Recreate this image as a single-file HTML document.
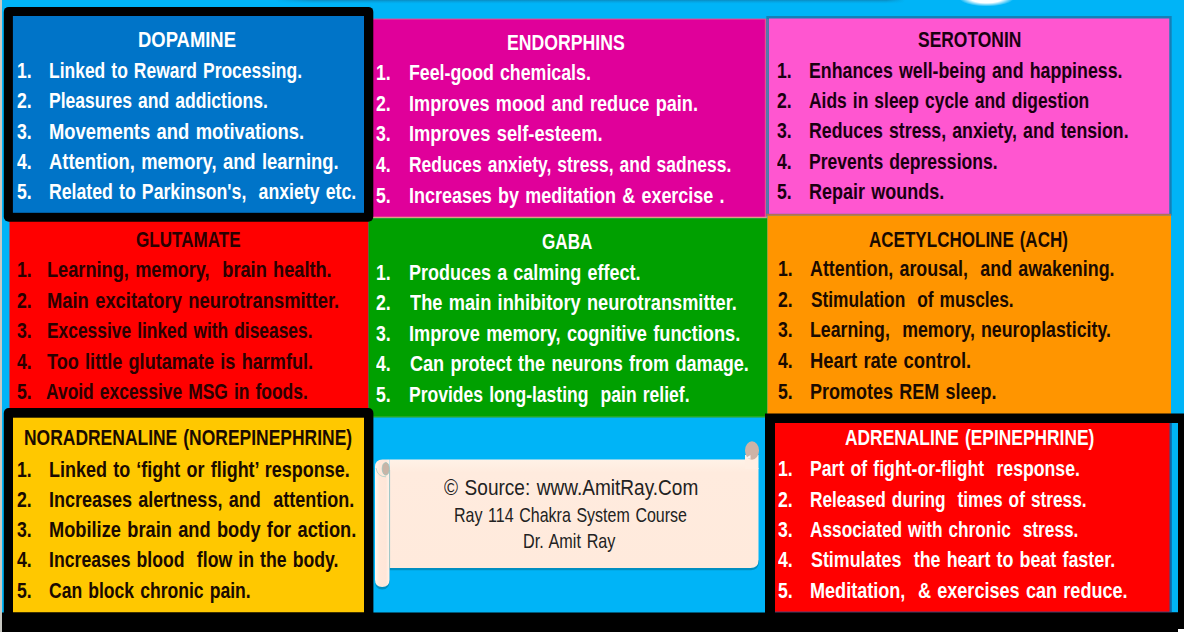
<!DOCTYPE html>
<html lang="en">
<head>
<meta charset="utf-8">
<title>Neurotransmitters and their functions</title>
<style>
html,body{margin:0;padding:0;background:#00B4F7;}
body{width:1184px;height:632px;overflow:hidden;}
#chart{position:relative;width:1184px;height:632px;overflow:hidden;background:#00B4F7;font-family:"Liberation Sans",Arial,sans-serif;}
.shape{position:absolute;box-sizing:border-box;}
.card,.credit,ol,li{margin:0;padding:0;list-style:none;display:block;}
.t{position:absolute;margin:0;padding:0;white-space:pre;font-weight:bold;line-height:1.117;transform-origin:0 0;display:block;word-spacing:1.5px;}
.reg{font-weight:normal;color:#222;}

</style>
</head>
<body>
<main id="chart">
<svg class="shape" id="bg" style="left:0;top:0" width="1184" height="632" viewBox="0 0 1184 632" aria-hidden="true">
  <defs>
    <linearGradient id="topg" gradientUnits="userSpaceOnUse" x1="275" y1="0" x2="905" y2="0"><stop offset="0" stop-color="#0a8fc6" stop-opacity="0"/><stop offset=".06" stop-color="#0a8fc6"/><stop offset=".97" stop-color="#0a8fc6"/><stop offset="1" stop-color="#0a8fc6" stop-opacity="0"/></linearGradient>
    <radialGradient id="glow" cx=".5" cy=".5" r=".5"><stop offset="0" stop-color="#fff"/><stop offset=".6" stop-color="#fff"/><stop offset="1" stop-color="#fff" stop-opacity="0"/></radialGradient>
    <linearGradient id="pg" x1="0" y1="0" x2="0" y2="1"><stop offset="0" stop-color="#fff2e7"/><stop offset=".12" stop-color="#ffebde"/><stop offset="1" stop-color="#ffeadc"/></linearGradient>
    <linearGradient id="rg" x1="0" y1="0" x2="1" y2="0"><stop offset="0" stop-color="#fff7f0"/><stop offset=".3" stop-color="#ffe8da"/><stop offset=".75" stop-color="#ffe6d8"/><stop offset="1" stop-color="#fff4ec"/></linearGradient>
  </defs>
  <rect x="0" y="0" width="1184" height="632" fill="#00B4F7"/>
  <rect x="275" y="0" width="630" height="1.2" fill="url(#topg)" opacity=".9"/>
  <rect x="275" y="1.2" width="630" height="1" fill="url(#topg)" opacity=".5"/>
  <rect x="275" y="2.2" width="630" height="1" fill="url(#topg)" opacity=".2"/>
  <ellipse cx="986.5" cy="-2.5" rx="28" ry="9" fill="url(#glow)"/>
  <!-- endorphins -->
  <rect x="373" y="18.6" width="393.5" height="199.6" fill="#e8508f"/>
  <rect x="373" y="19.6" width="391.8" height="197.2" fill="#E0009A"/>
  <rect x="373" y="216.8" width="393.5" height="1.6" fill="#e39a86"/>
  <!-- serotonin -->
  <rect x="766.3" y="16" width="405.4" height="199.5" fill="#1480b8"/>
  <rect x="766.3" y="19" width="2.5" height="196.5" fill="#5a78a8"/>
  <rect x="766.3" y="213.8" width="404.8" height="1.8" fill="#b8704f"/>
  <rect x="769" y="18.5" width="400.3" height="195.3" fill="#FF56D0"/>
  <!-- glutamate / gaba / acetylcholine -->
  <rect x="9.5" y="215" width="359.1" height="200" fill="#FF0000"/>
  <rect x="368.6" y="218.3" width="398.8" height="199" fill="#00A000"/>
  <rect x="368.6" y="416.4" width="398.8" height="0.9" fill="#3fae3a"/>
  <rect x="767.4" y="215.6" width="403.6" height="202" fill="#FF9500"/>
  <!-- dopamine -->
  <rect x="3.8" y="6.9" width="369.5" height="214.8" rx="5" ry="5" fill="#000"/>
  <rect x="12.9" y="16" width="351.1" height="196.8" fill="#0074C8"/>
  <!-- noradrenaline -->
  <rect x="3.8" y="408" width="369.6" height="214" rx="5" ry="5" fill="#000"/>
  <rect x="13" y="417.7" width="351" height="194.8" fill="#FFC800"/>
  <!-- adrenaline -->
  <rect x="765" y="413.5" width="425" height="210" fill="#000"/>
  <rect x="775" y="423" width="403" height="189.5" fill="#00B4F7"/>
  <rect x="775" y="423" width="396.8" height="189.5" fill="#1466a6"/>
  <rect x="775" y="423" width="394.4" height="189.5" fill="#8a2a50"/>
  <rect x="775" y="423" width="394.4" height="188.3" fill="#FF0000"/>
  <!-- bottom bar -->
  <rect x="2" y="612.5" width="1182" height="19.5" fill="#000"/>
  <rect x="1178" y="629" width="6" height="3" fill="#fff"/>
  <rect x="0" y="0" width="2" height="632" fill="#c9c9c3"/>
  <!-- scroll banner -->
  <path d="M389.5 560 H759 V561 Q759 570.2 751 570.2 H389.5 V581 Q389.5 589.5 382.2 589.5 Q375 589.5 375 581 V560 Z" fill="#0086b3" opacity=".8"/>
  <path d="M389.5 459.5 H745.5 V468 H758.5 V560 Q758.5 568 750.5 568 H389.5 Z" fill="url(#pg)"/>
  <rect x="745" y="455" width="13.5" height="14" fill="#ffefe3"/>
  <ellipse cx="752" cy="450.5" rx="7" ry="9.3" fill="#ceb3a6"/>
  <path d="M746.5 457.5 l4 -2.5 v4 z" fill="#f4f4f4"/>
  <path d="M375 467 Q375 459.5 382.5 459.5 H389.5 V579.5 Q389.5 587 382.2 587 Q375 587 375 579.5 Z" fill="url(#rg)"/>
  <path d="M389.6 470 V568" stroke="#9fc4c4" stroke-width="1" fill="none"/>
  <ellipse cx="385.8" cy="468.8" rx="3.6" ry="6.3" fill="#c9b4a6" stroke="#9cc3bd" stroke-width=".8"/>
  <path d="M376 468 Q377.5 477 386 476.8" stroke="#a9cfc6" stroke-width=".8" fill="none"/>
</svg>

<section class="card" id="dopamine" style="color:#fff">
  <h2 class="t ttl" id="dopamine-t" style="left:137.66px;top:28px;font-size:21.8px;transform:scaleX(0.8455);">DOPAMINE</h2>
  <ol>
    <li><span class="t num" id="dopamine-n1" style="left:17.20px;top:59px;font-size:21.8px;transform:scaleX(0.8100);">1.</span><span class="t" id="dopamine-l1" style="left:48.73px;top:59px;font-size:21.8px;transform:scaleX(0.8011);">Linked to Reward Processing.</span></li>
    <li><span class="t num" id="dopamine-n2" style="left:17.20px;top:89px;font-size:21.8px;transform:scaleX(0.8100);">2.</span><span class="t" id="dopamine-l2" style="left:48.95px;top:89px;font-size:21.8px;transform:scaleX(0.8048);">Pleasures and addictions.</span></li>
    <li><span class="t num" id="dopamine-n3" style="left:17.20px;top:120px;font-size:21.8px;transform:scaleX(0.8100);">3.</span><span class="t" id="dopamine-l3" style="left:48.81px;top:120px;font-size:21.8px;transform:scaleX(0.8442);">Movements and motivations.</span></li>
    <li><span class="t num" id="dopamine-n4" style="left:17.20px;top:150px;font-size:21.8px;transform:scaleX(0.8100);">4.</span><span class="t" id="dopamine-l4" style="left:48.97px;top:150px;font-size:21.8px;transform:scaleX(0.8440);">Attention, memory, and learning.</span></li>
    <li><span class="t num" id="dopamine-n5" style="left:17.20px;top:180px;font-size:21.8px;transform:scaleX(0.8100);">5.</span><span class="t" id="dopamine-l5" style="left:48.92px;top:180px;font-size:21.8px;transform:scaleX(0.8115);">Related to Parkinson's,  anxiety etc.</span></li>
  </ol>
</section>
<section class="card" id="endorphins" style="color:#fff">
  <h2 class="t ttl" id="endorphins-t" style="left:506.90px;top:31px;font-size:21.8px;transform:scaleX(0.8108);">ENDORPHINS</h2>
  <ol>
    <li><span class="t num" id="endorphins-n1" style="left:375.60px;top:61px;font-size:21.8px;transform:scaleX(0.8100);">1.</span><span class="t" id="endorphins-l1" style="left:409.07px;top:61px;font-size:21.8px;transform:scaleX(0.8147);">Feel-good chemicals.</span></li>
    <li><span class="t num" id="endorphins-n2" style="left:375.60px;top:92px;font-size:21.8px;transform:scaleX(0.8100);">2.</span><span class="t" id="endorphins-l2" style="left:408.92px;top:92px;font-size:21.8px;transform:scaleX(0.8314);">Improves mood and reduce pain.</span></li>
    <li><span class="t num" id="endorphins-n3" style="left:375.60px;top:122px;font-size:21.8px;transform:scaleX(0.8100);">3.</span><span class="t" id="endorphins-l3" style="left:408.91px;top:122px;font-size:21.8px;transform:scaleX(0.8400);">Improves self-esteem.</span></li>
    <li><span class="t num" id="endorphins-n4" style="left:375.60px;top:153px;font-size:21.8px;transform:scaleX(0.8100);">4.</span><span class="t" id="endorphins-l4" style="left:408.97px;top:153px;font-size:21.8px;transform:scaleX(0.7996);">Reduces anxiety, stress, and sadness.</span></li>
    <li><span class="t num" id="endorphins-n5" style="left:375.60px;top:184px;font-size:21.8px;transform:scaleX(0.8100);">5.</span><span class="t" id="endorphins-l5" style="left:408.92px;top:184px;font-size:21.8px;transform:scaleX(0.8236);">Increases by meditation &amp; exercise .</span></li>
  </ol>
</section>
<section class="card" id="serotonin" style="color:#1a0010">
  <h2 class="t ttl" id="serotonin-t" style="left:918.30px;top:28px;font-size:21.8px;transform:scaleX(0.8000);">SEROTONIN</h2>
  <ol>
    <li><span class="t num" id="serotonin-n1" style="left:776.80px;top:59px;font-size:21.8px;transform:scaleX(0.8100);">1.</span><span class="t" id="serotonin-l1" style="left:809.40px;top:59px;font-size:21.8px;transform:scaleX(0.8145);">Enhances well-being and happiness.</span></li>
    <li><span class="t num" id="serotonin-n2" style="left:776.80px;top:89px;font-size:21.8px;transform:scaleX(0.8100);">2.</span><span class="t" id="serotonin-l2" style="left:809.10px;top:89px;font-size:21.8px;transform:scaleX(0.8000);">Aids in sleep cycle and digestion</span></li>
    <li><span class="t num" id="serotonin-n3" style="left:776.80px;top:119px;font-size:21.8px;transform:scaleX(0.8100);">3.</span><span class="t" id="serotonin-l3" style="left:809.34px;top:119px;font-size:21.8px;transform:scaleX(0.8127);">Reduces stress, anxiety, and tension.</span></li>
    <li><span class="t num" id="serotonin-n4" style="left:776.80px;top:150px;font-size:21.8px;transform:scaleX(0.8100);">4.</span><span class="t" id="serotonin-l4" style="left:809.41px;top:150px;font-size:21.8px;transform:scaleX(0.8057);">Prevents depressions.</span></li>
    <li><span class="t num" id="serotonin-n5" style="left:776.80px;top:180px;font-size:21.8px;transform:scaleX(0.8100);">5.</span><span class="t" id="serotonin-l5" style="left:809.33px;top:180px;font-size:21.8px;transform:scaleX(0.8256);">Repair wounds.</span></li>
  </ol>
</section>
<section class="card" id="glutamate" style="color:#2a0000">
  <h2 class="t ttl" id="glutamate-t" style="left:135.54px;top:228px;font-size:21.8px;transform:scaleX(0.7825);">GLUTAMATE</h2>
  <ol>
    <li><span class="t num" id="glutamate-n1" style="left:17.20px;top:258px;font-size:21.8px;transform:scaleX(0.8100);">1.</span><span class="t" id="glutamate-l1" style="left:46.65px;top:258px;font-size:21.8px;transform:scaleX(0.8346);">Learning, memory,  brain health.</span></li>
    <li><span class="t num" id="glutamate-n2" style="left:17.20px;top:289px;font-size:21.8px;transform:scaleX(0.8100);">2.</span><span class="t" id="glutamate-l2" style="left:46.90px;top:289px;font-size:21.8px;transform:scaleX(0.8421);">Main excitatory neurotransmitter.</span></li>
    <li><span class="t num" id="glutamate-n3" style="left:17.20px;top:319px;font-size:21.8px;transform:scaleX(0.8100);">3.</span><span class="t" id="glutamate-l3" style="left:46.97px;top:319px;font-size:21.8px;transform:scaleX(0.7976);">Excessive linked with diseases.</span></li>
    <li><span class="t num" id="glutamate-n4" style="left:17.20px;top:350px;font-size:21.8px;transform:scaleX(0.8100);">4.</span><span class="t" id="glutamate-l4" style="left:47.08px;top:350px;font-size:21.8px;transform:scaleX(0.8301);">Too little glutamate is harmful.</span></li>
    <li><span class="t num" id="glutamate-n5" style="left:17.20px;top:380px;font-size:21.8px;transform:scaleX(0.8100);">5.</span><span class="t" id="glutamate-l5" style="left:45.94px;top:380px;font-size:21.8px;transform:scaleX(0.7995);">Avoid excessive MSG in foods.</span></li>
  </ol>
</section>
<section class="card" id="gaba" style="color:#fff">
  <h2 class="t ttl" id="gaba-t" style="left:541.71px;top:230px;font-size:21.8px;transform:scaleX(0.7842);">GABA</h2>
  <ol>
    <li><span class="t num" id="gaba-n1" style="left:375.60px;top:261px;font-size:21.8px;transform:scaleX(0.8100);">1.</span><span class="t" id="gaba-l1" style="left:409.08px;top:261px;font-size:21.8px;transform:scaleX(0.8245);">Produces a calming effect.</span></li>
    <li><span class="t num" id="gaba-n2" style="left:375.60px;top:291px;font-size:21.8px;transform:scaleX(0.8100);">2.</span><span class="t" id="gaba-l2" style="left:409.58px;top:291px;font-size:21.8px;transform:scaleX(0.8363);">The main inhibitory neurotransmitter.</span></li>
    <li><span class="t num" id="gaba-n3" style="left:375.60px;top:322px;font-size:21.8px;transform:scaleX(0.8100);">3.</span><span class="t" id="gaba-l3" style="left:409.06px;top:322px;font-size:21.8px;transform:scaleX(0.8353);">Improve memory, cognitive functions.</span></li>
    <li><span class="t num" id="gaba-n4" style="left:375.60px;top:352px;font-size:21.8px;transform:scaleX(0.8100);">4.</span><span class="t" id="gaba-l4" style="left:409.75px;top:352px;font-size:21.8px;transform:scaleX(0.8297);">Can protect the neurons from damage.</span></li>
    <li><span class="t num" id="gaba-n5" style="left:375.60px;top:383px;font-size:21.8px;transform:scaleX(0.8100);">5.</span><span class="t" id="gaba-l5" style="left:409.02px;top:383px;font-size:21.8px;transform:scaleX(0.8043);">Provides long-lasting  pain relief.</span></li>
  </ol>
</section>
<section class="card" id="ach" style="color:#1a0a00">
  <h2 class="t ttl" id="ach-t" style="left:869.48px;top:228px;font-size:21.8px;transform:scaleX(0.7814);">ACETYLCHOLINE (ACH)</h2>
  <ol>
    <li><span class="t num" id="ach-n1" style="left:777.80px;top:257px;font-size:21.8px;transform:scaleX(0.8100);">1.</span><span class="t" id="ach-l1" style="left:809.85px;top:257px;font-size:21.8px;transform:scaleX(0.8191);">Attention, arousal,  and awakening.</span></li>
    <li><span class="t num" id="ach-n2" style="left:777.80px;top:288px;font-size:21.8px;transform:scaleX(0.8100);">2.</span><span class="t" id="ach-l2" style="left:810.61px;top:288px;font-size:21.8px;transform:scaleX(0.7940);">Stimulation  of muscles.</span></li>
    <li><span class="t num" id="ach-n3" style="left:777.80px;top:318px;font-size:21.8px;transform:scaleX(0.8100);">3.</span><span class="t" id="ach-l3" style="left:809.61px;top:318px;font-size:21.8px;transform:scaleX(0.8143);">Learning,  memory, neuroplasticity.</span></li>
    <li><span class="t num" id="ach-n4" style="left:777.80px;top:349px;font-size:21.8px;transform:scaleX(0.8100);">4.</span><span class="t" id="ach-l4" style="left:809.61px;top:349px;font-size:21.8px;transform:scaleX(0.8447);">Heart rate control.</span></li>
    <li><span class="t num" id="ach-n5" style="left:777.80px;top:380px;font-size:21.8px;transform:scaleX(0.8100);">5.</span><span class="t" id="ach-l5" style="left:809.58px;top:380px;font-size:21.8px;transform:scaleX(0.8253);">Promotes REM sleep.</span></li>
  </ol>
</section>
<section class="card" id="noradrenaline" style="color:#1a0a00">
  <h2 class="t ttl" id="noradrenaline-t" style="left:24.08px;top:426px;font-size:21.8px;transform:scaleX(0.8010);">NORADRENALINE (NOREPINEPHRINE)</h2>
  <ol>
    <li><span class="t num" id="noradrenaline-n1" style="left:17.20px;top:458px;font-size:21.8px;transform:scaleX(0.8100);">1.</span><span class="t" id="noradrenaline-l1" style="left:48.72px;top:458px;font-size:21.8px;transform:scaleX(0.8245);">Linked to ‘fight or flight’ response.</span></li>
    <li><span class="t num" id="noradrenaline-n2" style="left:17.20px;top:488px;font-size:21.8px;transform:scaleX(0.8100);">2.</span><span class="t" id="noradrenaline-l2" style="left:48.60px;top:488px;font-size:21.8px;transform:scaleX(0.8260);">Increases alertness, and  attention.</span></li>
    <li><span class="t num" id="noradrenaline-n3" style="left:17.20px;top:518px;font-size:21.8px;transform:scaleX(0.8100);">3.</span><span class="t" id="noradrenaline-l3" style="left:48.69px;top:518px;font-size:21.8px;transform:scaleX(0.8369);">Mobilize brain and body for action.</span></li>
    <li><span class="t num" id="noradrenaline-n4" style="left:17.20px;top:548px;font-size:21.8px;transform:scaleX(0.8100);">4.</span><span class="t" id="noradrenaline-l4" style="left:48.80px;top:548px;font-size:21.8px;transform:scaleX(0.8099);">Increases blood  flow in the body.</span></li>
    <li><span class="t num" id="noradrenaline-n5" style="left:17.20px;top:579px;font-size:21.8px;transform:scaleX(0.8100);">5.</span><span class="t" id="noradrenaline-l5" style="left:49.39px;top:579px;font-size:21.8px;transform:scaleX(0.8054);">Can block chronic pain.</span></li>
  </ol>
</section>
<section class="card" id="adrenaline" style="color:#fff">
  <h2 class="t ttl" id="adrenaline-t" style="left:844.96px;top:426px;font-size:21.8px;transform:scaleX(0.7973);">ADRENALINE (EPINEPHRINE)</h2>
  <ol>
    <li><span class="t num" id="adrenaline-n1" style="left:778.10px;top:457px;font-size:21.8px;transform:scaleX(0.8100);">1.</span><span class="t" id="adrenaline-l1" style="left:809.92px;top:457px;font-size:21.8px;transform:scaleX(0.8107);">Part of fight-or-flight  response.</span></li>
    <li><span class="t num" id="adrenaline-n2" style="left:778.10px;top:488px;font-size:21.8px;transform:scaleX(0.8100);">2.</span><span class="t" id="adrenaline-l2" style="left:809.95px;top:488px;font-size:21.8px;transform:scaleX(0.7923);">Released during  times of stress.</span></li>
    <li><span class="t num" id="adrenaline-n3" style="left:778.10px;top:518px;font-size:21.8px;transform:scaleX(0.8100);">3.</span><span class="t" id="adrenaline-l3" style="left:810.27px;top:518px;font-size:21.8px;transform:scaleX(0.7914);">Associated with chronic  stress.</span></li>
    <li><span class="t num" id="adrenaline-n4" style="left:778.10px;top:548px;font-size:21.8px;transform:scaleX(0.8100);">4.</span><span class="t" id="adrenaline-l4" style="left:810.60px;top:548px;font-size:21.8px;transform:scaleX(0.8193);">Stimulates  the heart to beat faster.</span></li>
    <li><span class="t num" id="adrenaline-n5" style="left:778.10px;top:579px;font-size:21.8px;transform:scaleX(0.8100);">5.</span><span class="t" id="adrenaline-l5" style="left:809.88px;top:579px;font-size:21.8px;transform:scaleX(0.8291);">Meditation,  &amp; exercises can reduce.</span></li>
  </ol>
</section>
<footer class="credit">
  <p class="t reg" id="credit-1" style="left:444.04px;top:475px;font-size:22.4px;transform:scaleX(0.8502);">© Source: www.AmitRay.Com</p>
  <p class="t reg" id="credit-2" style="left:453.80px;top:504px;font-size:19.8px;transform:scaleX(0.8083);">Ray 114 Chakra System Course</p>
  <p class="t reg" id="credit-3" style="left:522.82px;top:530px;font-size:19.8px;transform:scaleX(0.8186);">Dr. Amit Ray</p>
</footer>
</main>
</body>
</html>
